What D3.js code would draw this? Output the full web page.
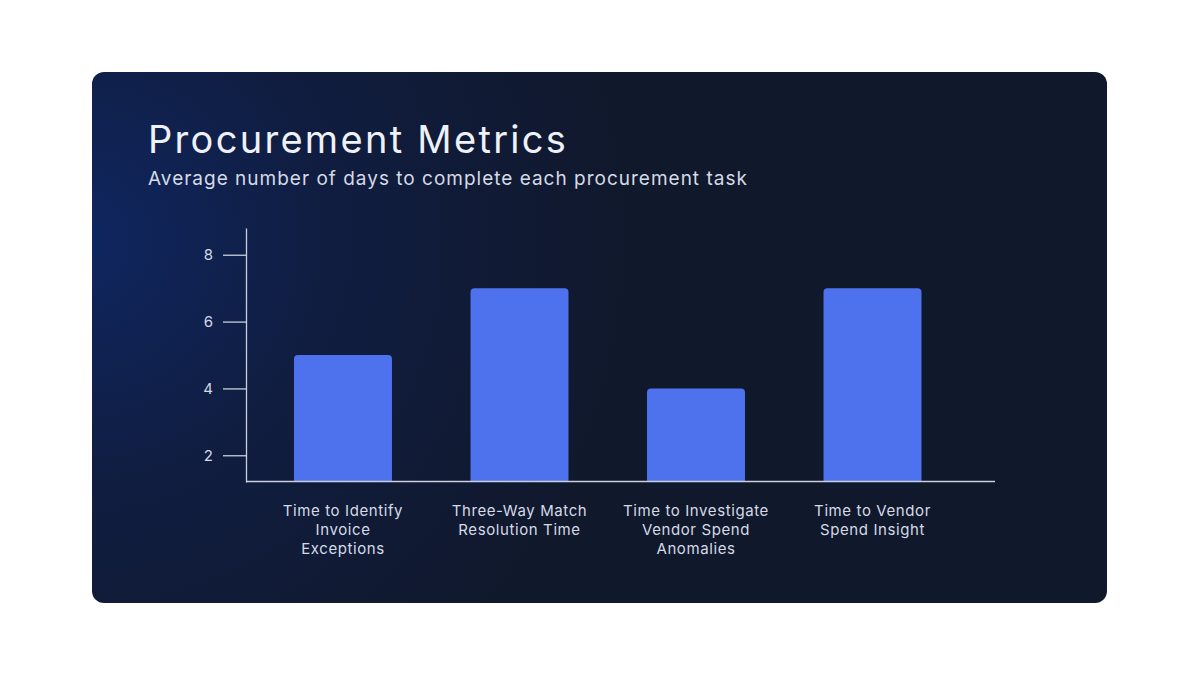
<!DOCTYPE html>
<html>
<head>
<meta charset="utf-8">
<script src="https://cdn.jsdelivr.net/npm/d3@7"></script>
<style>
  html, body { margin: 0; padding: 0; background: #ffffff; }
  svg { display: block; }
  text { font-family: Inter, "Open Sans", sans-serif; }
</style>
</head>
<body>
<svg width="1200" height="675"></svg>
<script>
const categories = [
    ['Time to Identify', 'Invoice', 'Exceptions'],
    ['Three-Way Match', 'Resolution Time'],
    ['Time to Investigate', 'Vendor Spend', 'Anomalies'],
    ['Time to Vendor', 'Spend Insight']
]
const values = [5, 7, 4, 7]
const yTicks = [2, 4, 6, 8]

const svg = d3.select('svg')

// card background with a soft blue glow on the left
const defs = svg.append('defs')
const glow = defs.append('radialGradient')
    .attr('id', 'glow')
    .attr('gradientUnits', 'userSpaceOnUse')
    .attr('cx', 80).attr('cy', 240).attr('r', 560)
glow.append('stop').attr('offset', '0%').attr('stop-color', '#0f2660')
glow.append('stop').attr('offset', '45%').attr('stop-color', '#101d40')
glow.append('stop').attr('offset', '100%').attr('stop-color', '#10182b')

svg.append('rect')
    .attr('x', 92).attr('y', 72)
    .attr('width', 1015).attr('height', 531)
    .attr('rx', 12)
    .attr('fill', 'url(#glow)')

svg.append('text')
    .attr('x', 148).attr('y', 153)
    .attr('fill', '#eef1f8')
    .attr('font-size', 38)
    .attr('letter-spacing', 2.3)
    .text('Procurement Metrics')

svg.append('text')
    .attr('x', 148).attr('y', 185)
    .attr('fill', '#d5dae6')
    .attr('font-size', 19)
    .attr('letter-spacing', 1)
    .text('Average number of days to complete each procurement task')

const x = d3.scaleBand()
    .domain(d3.range(values.length))
    .range([246, 969.5])
    .paddingInner(0.445)
    .paddingOuter(0.272)

const y = d3.scaleLinear()
    .domain([1.2, 8.8])
    .range([482, 228])

const axisColor = '#c9cfdc'

// y axis
const yAxis = svg.append('g')
    .attr('transform', 'translate(246,0)')
    .call(d3.axisLeft(y).tickValues(yTicks).tickSize(23).tickPadding(10).tickSizeOuter(0))
yAxis.select('.domain').attr('stroke', axisColor).attr('stroke-width', 1.3)
yAxis.selectAll('.tick line').attr('stroke', axisColor).attr('stroke-width', 1.3)
yAxis.selectAll('.tick text')
    .attr('fill', '#d5dae6')
    .attr('font-size', 15)
    .attr('font-family', 'Inter, sans-serif')

// bars with rounded top corners
const r = 4
svg.append('g').selectAll('path')
    .data(values)
    .join('path')
        .attr('fill', '#4e72ee')
        .attr('d', (d, i) => {
            const x0 = x(i), x1 = x(i) + x.bandwidth()
            const y0 = y(d), yb = y(1.2)
            return `M${x0},${yb}V${y0 + r}Q${x0},${y0} ${x0 + r},${y0}H${x1 - r}Q${x1},${y0} ${x1},${y0 + r}V${yb}Z`
        })

// x axis line
svg.append('line')
    .attr('x1', 246).attr('x2', 995)
    .attr('y1', 481.5).attr('y2', 481.5)
    .attr('stroke', axisColor)
    .attr('stroke-width', 1.3)

// category labels
svg.append('g').selectAll('text')
    .data(categories)
    .join('text')
        .attr('text-anchor', 'middle')
        .attr('fill', '#d5dae6')
        .attr('font-size', 15)
        .attr('letter-spacing', 0.6)
        .attr('transform', (d, i) => `translate(${x(i) + x.bandwidth() / 2},516)`)
        .selectAll('tspan')
        .data(d => d)
        .join('tspan')
            .attr('x', 0)
            .attr('dy', (d, i) => i === 0 ? 0 : 19)
            .text(d => d)
</script>
</body>
</html>
